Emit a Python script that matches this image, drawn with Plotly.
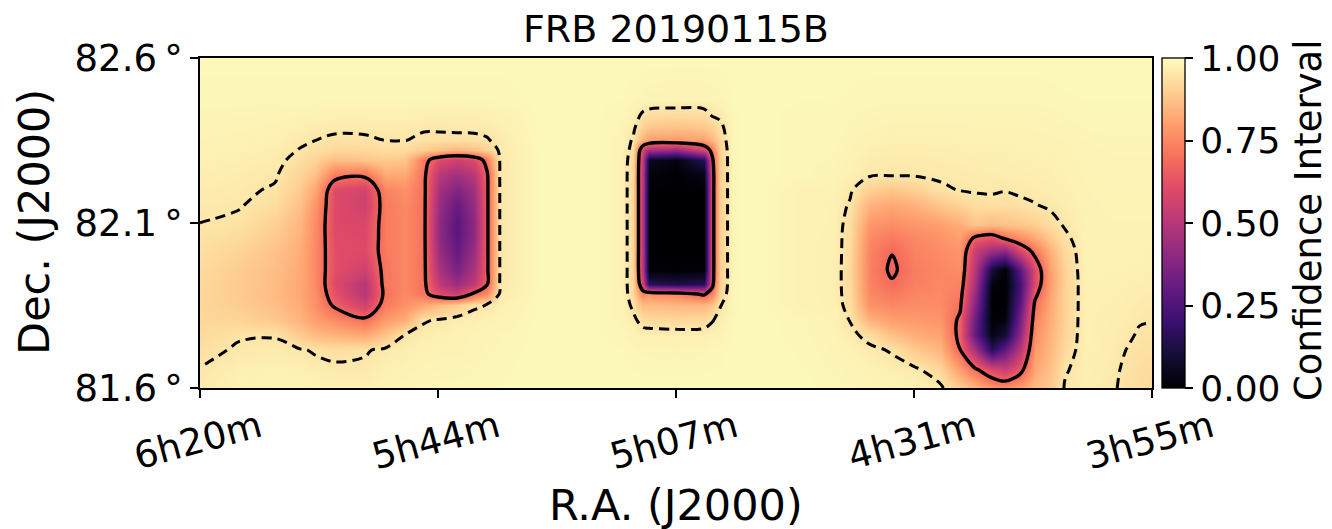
import plotly.graph_objects as go

# ---------------- data ----------------
title_text = "FRB 20190115B"
ra_tick_vals = [95.0, 85.9375, 76.875, 67.8125, 58.75]          # RA in degrees
ra_tick_text = ["6h20m", "5h44m", "5h07m", "4h31m", "3h55m"]
dec_tick_vals = [81.6, 82.1, 82.6]
dec_tick_text = ["81.6\u2009°", "82.1\u2009°", "82.6\u2009°"]
cbar_tick_vals = [0.0, 0.25, 0.5, 0.75, 1.0]
cbar_tick_text = ["0.00", "0.25", "0.50", "0.75", "1.00"]
solid_level = 0.68
dashed_level = 0.95

# grid nodes (RA in degrees, descending; Dec in degrees, descending = top to bottom)
ra_left = [95.00, 93.48, 92.14, 91.19, 90.62, 89.86, 88.72, 87.96, 87.19, 86.47, 85.86, 85.21,
           84.57, 84.07, 83.58, 82.05]
ra_mid = [79.77, 78.93, 78.51, 78.13, 77.90, 76.84, 75.81, 75.50, 75.20, 74.70, 73.68, 72.04]
ra_right = [70.82, 70.25, 69.49, 68.65, 67.77, 66.82, 66.06, 65.49, 64.84, 64.35, 63.78, 63.21,
            62.63, 62.06, 61.30, 60.35, 59.66, 59.21, 58.75]
dec_rows = [82.600, 82.473, 82.427, 82.388, 82.352, 82.321, 82.291, 82.245, 82.200, 82.155, 82.094,
            82.055, 82.018, 81.958, 81.915, 81.885, 81.852, 81.806, 81.761, 81.715, 81.655, 81.600]

# confidence values, one row per Dec node (top to bottom)
conf_left = [
    [.99, .99, .99, .99, .99, .99, .99, .99, .99, .99, .99, .99, .99, .99, .99, .99],
    [.985, .985, .985, .985, .985, .985, .985, .985, .985, .985, .985, .985, .985, .985, .985, .99],
    [.983, .982, .98, .978, .975, .972, .972, .972, .972, .97, .968, .968, .969, .97, .975, .99],
    [.98, .978, .975, .968, .962, .958, .958, .96, .96, .955, .957, .96, .958, .96, .968, .99],
    [.977, .975, .97, .958, .951, .942, .944, .951, .952, .94, .937, .935, .94, .947, .962, .99],
    [.975, .972, .966, .948, .935, .92, .92, .93, .925, .90, .87, .85, .87, .905, .958, .99],
    [.972, .968, .962, .935, .91, .86, .88, .89, .88, .72, .60, .55, .60, .72, .955, .99],
    [.968, .963, .955, .91, .87, .72, .70, .82, .82, .70, .50, .45, .50, .665, .954, .99],
    [.963, .958, .945, .89, .82, .60, .57, .74, .77, .70, .45, .37, .45, .66, .953, .99],
    [.958, .953, .93, .87, .78, .60, .56, .72, .755, .70, .42, .31, .42, .66, .953, .99],
    [.949, .94, .90, .85, .76, .60, .59, .72, .75, .70, .40, .27, .40, .66, .953, .99],
    [.942, .925, .888, .84, .757, .605, .595, .72, .75, .70, .40, .28, .41, .66, .953, .99],
    [.935, .91, .875, .83, .755, .61, .60, .72, .75, .70, .42, .30, .43, .66, .953, .99],
    [.925, .895, .865, .825, .755, .61, .56, .71, .75, .70, .46, .36, .47, .66, .953, .99],
    [.92, .89, .86, .82, .76, .60, .50, .71, .75, .70, .52, .43, .52, .67, .955, .99],
    [.918, .89, .86, .82, .765, .62, .50, .70, .755, .71, .60, .55, .70, .76, .96, .99],
    [.917, .895, .865, .825, .77, .66, .56, .72, .77, .82, .86, .90, .94, .952, .97, .99],
    [.918, .91, .885, .845, .80, .76, .70, .79, .83, .945, .955, .965, .97, .975, .978, .99],
    [.925, .945, .947, .89, .86, .84, .82, .875, .951, .965, .97, .975, .978, .98, .983, .99],
    [.935, .957, .96, .955, .945, .935, .945, .96, .968, .972, .975, .975, .98, .983, .985, .99],
    [.952, .97, .972, .97, .965, .96, .96, .97, .975, .98, .982, .982, .984, .985, .987, .99],
    [.96, .975, .978, .978, .975, .972, .972, .978, .98, .985, .985, .985, .986, .987, .988, .99],
]

conf_mid = [
    [.99, .99, .99, .99, .99, .99, .99, .99, .99, .99, .99, .99],
    [.988, .988, .985, .982, .98, .978, .978, .98, .982, .988, .99, .988],
    [.988, .985, .975, .94, .93, .925, .93, .955, .96, .987, .99, .985],
    [.988, .982, .962, .90, .88, .87, .88, .90, .935, .987, .99, .985],
    [.988, .978, .945, .84, .80, .79, .81, .85, .92, .987, .99, .985],
    [.988, .977, .935, .56, .45, .42, .58, .72, .905, .987, .99, .985],
    [.988, .976, .925, .50, .05, .02, .15, .65, .90, .987, .99, .985],
    [.988, .976, .92, .48, .02, .0, .03, .62, .90, .987, .99, .985],
    [.988, .976, .92, .48, .0, .0, .0, .62, .90, .987, .99, .975],
    [.988, .976, .92, .48, .0, .0, .0, .62, .90, .987, .99, .975],
    [.988, .976, .92, .48, .0, .0, .0, .62, .90, .987, .99, .975],
    [.988, .976, .92, .48, .0, .0, .0, .62, .90, .987, .99, .975],
    [.988, .976, .92, .48, .0, .0, .0, .62, .90, .987, .99, .975],
    [.988, .976, .92, .48, .0, .0, .0, .62, .90, .987, .99, .975],
    [.988, .976, .92, .55, .15, .12, .15, .64, .90, .987, .99, .975],
    [.988, .977, .925, .74, .78, .74, .66, .74, .915, .987, .99, .975],
    [.988, .978, .94, .86, .86, .85, .85, .88, .945, .987, .99, .975],
    [.988, .98, .962, .93, .925, .92, .925, .945, .968, .988, .99, .985],
    [.988, .985, .978, .97, .97, .968, .97, .978, .98, .988, .99, .985],
    [.99, .988, .985, .982, .982, .98, .983, .985, .986, .99, .99, .987],
    [.99, .99, .988, .987, .987, .987, .987, .988, .988, .99, .99, .988],
    [.99, .99, .99, .99, .99, .99, .99, .99, .99, .99, .99, .99],
]

conf_right = [
    [.99, .99, .99, .99, .99, .99, .99, .99, .99, .99, .99, .99, .99, .99, .99, .99, .99, .99, .99],
    [.988, .987, .985, .985, .985, .985, .985, .985, .985, .985, .985, .985, .986, .987, .988, .988, .988, .988, .988],
    [.987, .985, .982, .98, .98, .98, .98, .98, .98, .98, .98, .98, .982, .984, .986, .986, .986, .986, .986],
    [.986, .983, .978, .975, .975, .975, .976, .977, .977, .977, .977, .978, .979, .981, .984, .985, .985, .985, .985],
    [.985, .98, .973, .97, .97, .97, .972, .973, .974, .974, .974, .975, .976, .978, .982, .983, .983, .983, .983],
    [.984, .978, .968, .965, .965, .967, .968, .97, .971, .971, .972, .973, .974, .976, .98, .982, .982, .982, .982],
    [.983, .975, .962, .96, .96, .963, .965, .967, .968, .968, .97, .971, .972, .975, .979, .981, .981, .981, .981],
    [.98, .97, .955, .953, .954, .958, .96, .962, .963, .964, .966, .968, .97, .973, .978, .98, .98, .98, .98],
    [.975, .958, .90, .88, .90, .94, .952, .955, .956, .952, .958, .962, .966, .97, .977, .979, .979, .979, .979],
    [.972, .945, .84, .82, .84, .88, .91, .93, .935, .935, .94, .948, .958, .965, .976, .978, .978, .978, .978],
    [.972, .93, .78, .76, .78, .80, .83, .88, .86, .87, .88, .90, .93, .955, .975, .977, .977, .977, .977],
    [.97, .927, .755, .72, .75, .775, .80, .66, .62, .70, .76, .82, .89, .94, .975, .976, .976, .976, .976],
    [.97, .925, .74, .685, .74, .76, .78, .55, .45, .42, .60, .72, .84, .925, .974, .975, .975, .974, .973],
    [.97, .922, .735, .665, .73, .75, .76, .50, .10, .0, .28, .60, .80, .912, .973, .974, .972, .971, .97],
    [.97, .922, .74, .69, .735, .75, .74, .46, .02, .0, .22, .60, .80, .908, .972, .972, .97, .968, .966],
    [.97, .925, .75, .72, .745, .755, .72, .42, .0, .0, .24, .65, .81, .908, .972, .971, .968, .965, .962],
    [.972, .93, .77, .75, .76, .76, .70, .38, .0, .0, .28, .70, .82, .908, .972, .97, .966, .96, .958],
    [.975, .948, .84, .80, .79, .78, .66, .32, .0, .02, .34, .74, .83, .91, .972, .968, .962, .953, .952],
    [.978, .965, .93, .87, .83, .81, .65, .30, .03, .10, .40, .77, .84, .915, .972, .966, .956, .945, .942],
    [.98, .975, .962, .945, .89, .85, .683, .46, .16, .30, .50, .79, .85, .925, .972, .964, .948, .938, .935],
    [.983, .98, .975, .968, .96, .92, .80, .70, .60, .55, .64, .82, .87, .945, .97, .962, .94, .932, .928],
    [.985, .983, .98, .976, .972, .96, .90, .85, .78, .76, .80, .86, .89, .955, .968, .96, .935, .928, .922],
]

# ---------------- assemble grid ----------------
ra_nodes = ra_left + ra_mid + ra_right
rows = [l + m + r for l, m, r in zip(conf_left, conf_mid, conf_right)]
# make both axes ascending for the library
x_asc = ra_nodes[::-1]
y_asc = dec_rows[::-1]
z_asc = [row[::-1] for row in rows[::-1]]

magma = [
    [0.0, "#000004"], [0.1, "#140e36"], [0.2, "#3b0f70"], [0.3, "#641a80"],
    [0.4, "#8c2981"], [0.5, "#b73779"], [0.6, "#de4968"], [0.7, "#f7705c"],
    [0.8, "#fe9f6d"], [0.9, "#fecf92"], [1.0, "#fcfdbf"],
]

FONT = "DejaVu Sans"

fig = go.Figure()
fig.add_trace(go.Heatmap(
    x=x_asc, y=y_asc, z=z_asc, zmin=0, zmax=1, zsmooth="best",
    colorscale=magma, hoverinfo="skip",
    colorbar=dict(
        x=1.0105, xanchor="left", xpad=0, ypad=0,
        y=0.5, yanchor="middle", len=1.0, lenmode="fraction",
        thickness=23, thicknessmode="pixels",
        outlinewidth=1.3, outlinecolor="black",
        tickvals=cbar_tick_vals, ticktext=cbar_tick_text,
        ticks="outside", ticklen=8, tickwidth=1.5, tickcolor="black",
        tickfont=dict(family=FONT, size=36, color="black"),
    ),
))
fig.add_trace(go.Contour(
    x=x_asc, y=y_asc, z=z_asc, autocontour=False, showscale=False, hoverinfo="skip",
    contours=dict(start=solid_level, end=solid_level, size=1, coloring="none"),
    line=dict(color="black", width=3.4, smoothing=1.0),
))
fig.add_trace(go.Contour(
    x=x_asc, y=y_asc, z=z_asc, autocontour=False, showscale=False, hoverinfo="skip",
    contours=dict(start=dashed_level, end=dashed_level, size=1, coloring="none"),
    line=dict(color="black", width=3.0, smoothing=1.0, dash="10px,6px"),
))

annotations = []
for tv, tt in zip(ra_tick_vals, ra_tick_text):
    annotations.append(dict(
        x=tv, xref="x", y=-0.1606, yref="paper", text=tt, showarrow=False,
        textangle=-15, xanchor="center", yanchor="middle", xshift=-2,
        font=dict(family=FONT, size=37, color="black"),
    ))
annotations.append(dict(
    x=0.5, xref="paper", y=-0.3545, yref="paper", text="R.A. (J2000)", showarrow=False,
    xanchor="center", yanchor="middle", font=dict(family=FONT, size=43, color="black"),
))
annotations.append(dict(
    x=-0.1744, xref="paper", y=0.503, yref="paper", text="Dec. (J2000)", showarrow=False,
    textangle=-90, xanchor="center", yanchor="middle",
    font=dict(family=FONT, size=43, color="black"),
))
annotations.append(dict(
    x=1.1638, xref="paper", y=0.509, yref="paper", text="Confidence Interval", showarrow=False,
    textangle=-90, xanchor="center", yanchor="middle",
    font=dict(family=FONT, size=37, color="black"),
))
annotations.append(dict(
    x=0.5, xref="paper", y=1.088, yref="paper", text=title_text, showarrow=False,
    xanchor="center", yanchor="middle", font=dict(family=FONT, size=38, color="black"),
))

fig.update_layout(
    width=1324, height=521,
    margin=dict(l=192, r=180, t=50, b=141, pad=0),
    paper_bgcolor="white", plot_bgcolor="white",
    showlegend=False,
    annotations=annotations,
    xaxis=dict(
        range=[95.0, 58.75], tickvals=ra_tick_vals, showticklabels=False,
        ticks="outside", ticklen=8, tickwidth=1.5, tickcolor="black",
        showline=True, linecolor="black", linewidth=1.5, mirror=True,
        showgrid=False, zeroline=False,
    ),
    yaxis=dict(
        range=[81.6, 82.6], tickvals=dec_tick_vals, ticktext=dec_tick_text,
        ticks="outside", ticklen=8, tickwidth=1.5, tickcolor="black",
        tickfont=dict(family=FONT, size=37, color="black"),
        showline=True, linecolor="black", linewidth=1.5, mirror=True,
        showgrid=False, zeroline=False,
    ),
)

fig.write_html("out.html")
